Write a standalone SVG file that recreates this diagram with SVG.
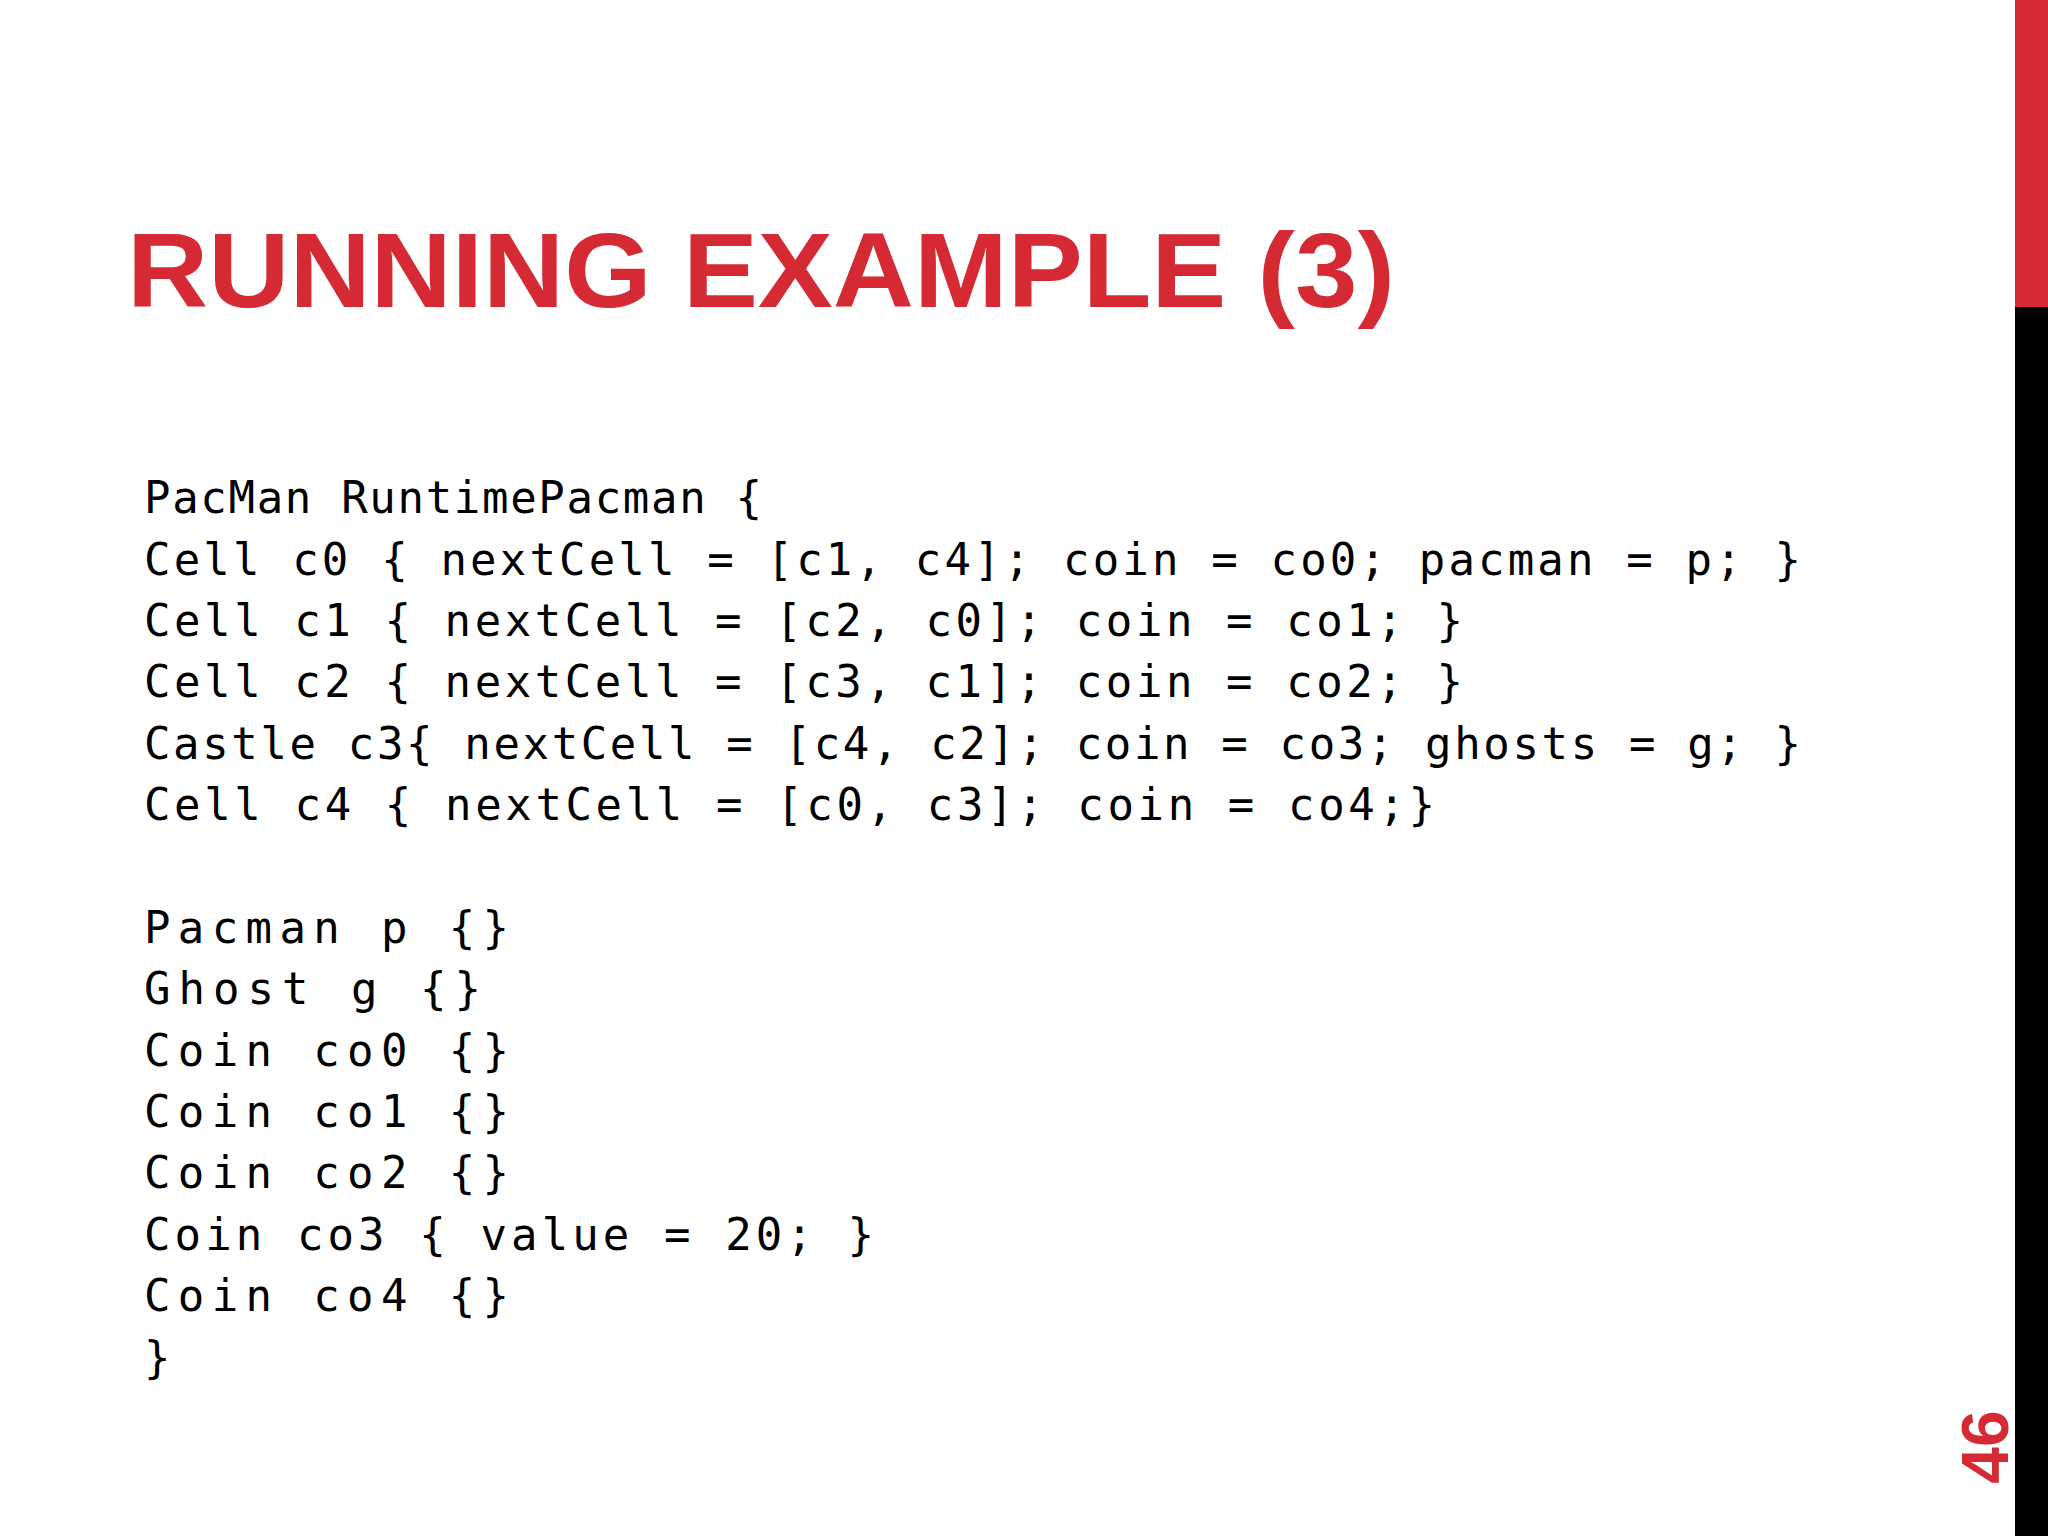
<svg xmlns="http://www.w3.org/2000/svg" width="2048" height="1536" viewBox="0 0 2048 1536">
<style>
.t{font-family:"Liberation Sans",Arial,sans-serif;font-weight:bold;fill:#d52a33}
.c{font-family:"DejaVu Sans Mono","Liberation Mono",monospace;font-size:44px;fill:#000;white-space:pre}
</style>
<rect width="2048" height="1536" fill="#fff"/>
<rect x="2015" y="0" width="33" height="307" fill="#d52a33"/>
<rect x="2015" y="307" width="33" height="1229" fill="#000"/>
<text class="t" x="127" y="307" font-size="106" textLength="1268" lengthAdjust="spacingAndGlyphs">RUNNING EXAMPLE (3)</text>
<g class="c" xml:space="preserve">
<text x="144" y="513" textLength="618">PacMan RuntimePacman {</text>
<text x="144" y="575" textLength="1657">  Cell c0  { nextCell = [c1, c4]; coin = co0; pacman = p; }</text>
<text x="144" y="636" textLength="1319">  Cell c1  { nextCell = [c2, c0]; coin = co1; }</text>
<text x="144" y="697" textLength="1319">  Cell c2  { nextCell = [c3, c1]; coin = co2; }</text>
<text x="144" y="759" textLength="1657">  Castle c3{ nextCell = [c4, c2]; coin = co3; ghosts = g; }</text>
<text x="144" y="820" textLength="1291">  Cell c4  { nextCell = [c0, c3]; coin = co4;}</text>
<text x="144" y="943" textLength="365">  Pacman p {}</text>
<text x="144" y="1004" textLength="337">  Ghost g {}</text>
<text x="144" y="1066" textLength="365">  Coin co0 {}</text>
<text x="144" y="1127" textLength="365">  Coin co1 {}</text>
<text x="144" y="1188" textLength="365">  Coin co2 {}</text>
<text x="144" y="1250" textLength="730">  Coin co3 { value = 20; }</text>
<text x="144" y="1311" textLength="365">  Coin co4 {}</text>
<text x="144" y="1373">}</text>
</g>
<text class="t" font-size="66" transform="translate(2008,1447) rotate(-90)" text-anchor="middle">46</text>
</svg>
